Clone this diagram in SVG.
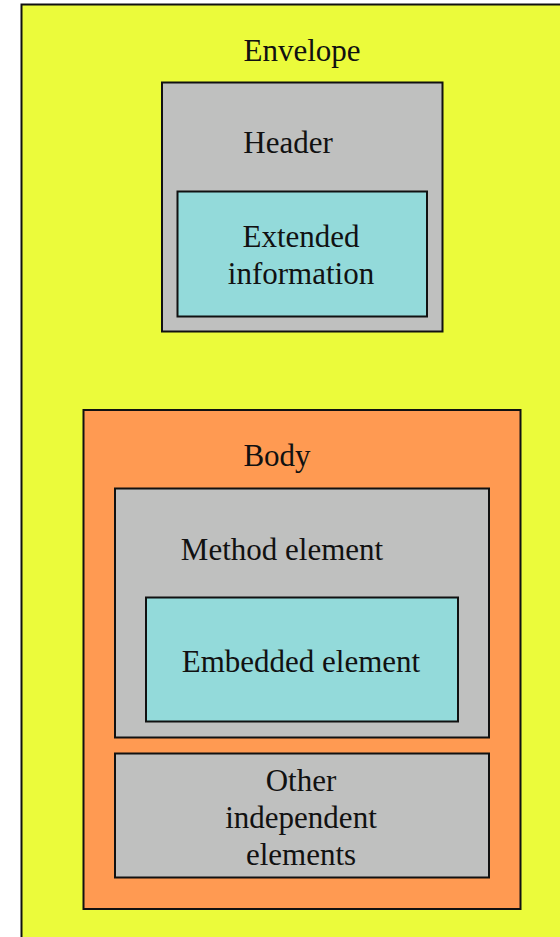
<svg xmlns="http://www.w3.org/2000/svg" width="560" height="937" viewBox="0 0 560 937">
  <style>
    .box { stroke: #111; stroke-width: 2; }
    .yellow { fill: #EBFB3B; }
    .gray { fill: #BFC0BF; }
    .cyan { fill: #93DADA; }
    .orange { fill: #FF9A52; }
    text { font-family: "Liberation Serif", "Times New Roman", serif; font-size: 31px; fill: #111; text-anchor: middle; }
  </style>
  <rect width="560" height="937" fill="#ffffff"/>

  <g id="envelope">
    <rect class="box yellow" x="21.5" y="4.5" width="560" height="950"/>
    <text x="302" y="61">Envelope</text>
  </g>

  <g id="header">
    <rect class="box gray" x="162" y="82.5" width="280.5" height="249"/>
    <text x="288" y="153">Header</text>
  </g>

  <g id="extended-information">
    <rect class="box cyan" x="177.5" y="191.5" width="249.5" height="125"/>
    <text x="301" y="247">Extended</text>
    <text x="301" y="283.5">information</text>
  </g>

  <g id="body">
    <rect class="box orange" x="83.5" y="410" width="437" height="499"/>
    <text x="277" y="466">Body</text>
  </g>

  <g id="method-element">
    <rect class="box gray" x="115" y="488.5" width="374" height="249"/>
    <text x="282" y="560">Method element</text>
  </g>

  <g id="embedded-element">
    <rect class="box cyan" x="146" y="597.5" width="312" height="124"/>
    <text x="301" y="672">Embedded element</text>
  </g>

  <g id="other-elements">
    <rect class="box gray" x="115" y="753.5" width="374" height="124"/>
    <text x="301" y="791">Other</text>
    <text x="301" y="827.5">independent</text>
    <text x="301" y="865">elements</text>
  </g>

  <g id="connectors"></g>
</svg>
